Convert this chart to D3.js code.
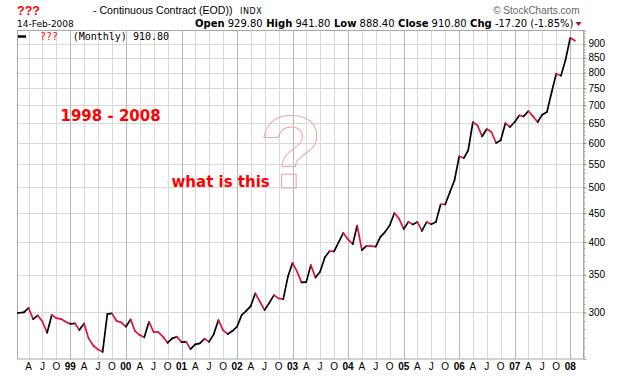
<!DOCTYPE html>
<html><head><meta charset="utf-8">
<script src="https://cdn.jsdelivr.net/npm/d3@7"></script>
<style>body{margin:0;background:#fff}svg{display:block}text{white-space:pre}</style>
</head><body><svg id="c" width="620" height="376"></svg>
<script>
// Monthly closes, Jan 1998 .. Feb 2008
const firstMonth = "1998-01";
const lastMonth = "2008-02";
const closes = [
 299.0, 299.6, 300.0, 305.7, 292.0, 296.4, 289.0, 276.1, 296.8, 293.1, 292.0, 288.7,
 286.3, 286.8, 279.1, 286.8, 269.8, 261.8, 257.9, 255.4, 298.0, 298.8, 289.6, 288.1,
 283.0, 291.6, 278.0, 273.5, 271.0, 288.7, 277.0, 276.7, 271.7, 265.0, 269.8, 271.7,
 265.7, 266.0, 258.2, 263.3, 264.4, 269.4, 266.0, 274.6, 290.8, 279.1, 274.6, 278.0,
 283.0, 297.0, 301.7, 307.9, 324.3, 313.4, 302.9, 312.0, 322.0, 317.7, 316.8, 347.0,
 367.4, 354.2, 339.2, 339.6, 364.0, 346.1, 354.2, 375.7, 385.4, 385.0, 400.3, 415.3,
 404.3, 396.6, 428.0, 387.0, 393.9, 393.4, 392.5, 408.6, 417.0, 428.6, 450.6, 440.4,
 422.1, 434.4, 429.9, 434.4, 418.7, 434.4, 430.3, 434.4, 466.9, 466.5, 491.0, 515.0,
 568.1, 564.1, 582.1, 653.5, 644.7, 616.4, 635.0, 627.3, 599.8, 606.4, 650.8, 640.3,
 653.5, 671.6, 668.8, 683.5, 668.8, 653.5, 673.5, 680.7, 738.6, 796.2, 789.6, 842.0,
 922.0, 910.8
];
const yTickValues = [300, 350, 400, 450, 500, 550, 600, 650, 700, 750, 800, 850, 900];
const quarterLetters = {3: "A", 6: "J", 9: "O"};
const headerStats = [["Open", "929.80"], ["High", "941.80"], ["Low", "888.40"], ["Close", "910.80"], ["Chg", "-17.20 (-1.85%)"]];

const parseM = d3.timeParse("%Y-%m");
const months = d3.timeMonth.range(parseM(firstMonth), d3.timeMonth.offset(parseM(lastMonth), 1));
const data = months.map((d, i) => ({date: d, value: closes[i]}));

const svg = d3.select("#c");
const L = 17, R = 583, T = 30.5, B = 359;
const x = d3.scaleTime().domain([new Date(1998, 0, 15), new Date(2008, 2, 25)]).range([L, R]);
const y = d3.scaleLog().domain([248, 950]).range([B, T]);

svg.append("defs").append("clipPath").attr("id", "clip")
  .append("rect").attr("x", L).attr("y", T).attr("width", R - L).attr("height", B - T);

// grid
const quarters = d3.timeMonth.every(3).range(new Date(1998, 1, 1), new Date(2008, 2, 1));
svg.append("g").selectAll("line").data(yTickValues).join("line")
  .attr("x1", L).attr("x2", R).attr("y1", d => Math.round(y(d)) + 0.5).attr("y2", d => Math.round(y(d)) + 0.5)
  .attr("stroke", "#d9d9d9");
svg.append("g").selectAll("line").data(quarters).join("line")
  .attr("x1", d => Math.round(x(d)) + 0.5).attr("x2", d => Math.round(x(d)) + 0.5)
  .attr("y1", T).attr("y2", B)
  .attr("stroke", d => d.getMonth() === 0 ? "#b8b8b8" : "#d9d9d9");

// border
svg.append("rect").attr("x", L + 0.5).attr("y", T).attr("width", R - L).attr("height", B - T)
  .attr("fill", "none").attr("stroke", "#a8a8a8");

// right axis
const yAxis = d3.axisRight(y).tickValues(yTickValues).tickSize(3).tickPadding(2).tickFormat(d3.format("d"));
const ga = svg.append("g").attr("transform", `translate(${R + 0.5},0)`).call(yAxis);
ga.select(".domain").attr("stroke", "#a8a8a8");
ga.selectAll(".tick line").attr("stroke", "#888");
ga.selectAll("text").attr("font-family", "Liberation Sans, Arial, sans-serif").attr("font-size", 10).attr("fill", "#000");
const minor = d3.range(250, 950, 10).filter(v => !yTickValues.includes(v));
svg.append("g").selectAll("line").data(minor).join("line")
  .attr("x1", R + 0.5).attr("x2", R + 2.5)
  .attr("y1", d => Math.round(y(d)) + 0.5).attr("y2", d => Math.round(y(d)) + 0.5)
  .attr("stroke", "#aaa");

// bottom labels
const xl = svg.append("g").attr("font-family", "Liberation Sans, Arial, sans-serif").attr("font-size", 10);
xl.selectAll("text").data(quarters).join("text")
  .attr("x", d => x(d)).attr("y", 370).attr("text-anchor", "middle")
  .attr("font-weight", d => d.getMonth() === 0 ? "bold" : "normal")
  .text(d => d.getMonth() === 0 ? d3.timeFormat("%y")(d) : quarterLetters[d.getMonth()]);

// price line, segment colored by direction
const lineGen = d3.line().x(d => x(d.date)).y(d => y(d.value));
const segs = d3.pairs(data);
svg.append("g").attr("clip-path", "url(#clip)").selectAll("path").data(segs).join("path")
  .attr("d", d => lineGen(d))
  .attr("fill", "none")
  .attr("stroke", d => d[1].value >= d[0].value ? "#000" : "#dc143c")
  .attr("stroke-width", 1.7).attr("stroke-linecap", "round");

// header
svg.append("text").attr("x", 17).attr("y", 15).attr("font-family", "Liberation Sans, Arial, sans-serif")
  .attr("font-size", 12.5).attr("font-weight", "bold").attr("fill", "#f00").text("???");
svg.append("text").attr("x", 93).attr("y", 14).attr("font-family", "Liberation Sans, Arial, sans-serif")
  .attr("font-size", 10.6).text("- Continuous Contract (EOD))");
svg.append("text").attr("x", 240).attr("y", 14).attr("font-family", "DejaVu Sans, sans-serif")
  .attr("font-size", 8).attr("letter-spacing", 0.6).text("INDX");
svg.append("text").attr("x", 17).attr("y", 27).attr("font-family", "DejaVu Sans, sans-serif")
  .attr("font-size", 9).text("14-Feb-2008");
svg.append("text").attr("x", 579.5).attr("y", 13.5).attr("text-anchor", "end")
  .attr("font-family", "Liberation Sans, Arial, sans-serif").attr("font-size", 10).attr("fill", "#666")
  .text("\u00A9 StockCharts.com");
const hs = svg.append("text").attr("x", 573.5).attr("y", 27).attr("text-anchor", "end")
  .attr("font-family", "DejaVu Sans, sans-serif").attr("font-size", 10);
headerStats.forEach(([k, v], i) => {
  hs.append("tspan").attr("font-weight", "bold").text((i ? " " : "") + k);
  hs.append("tspan").text(" " + v);
});
svg.append("path").attr("d", "M575.5,22 L581.5,22 L578.5,26 Z").attr("fill", "#a01030");

// legend
svg.append("line").attr("x1", 18).attr("x2", 26).attr("y1", 36.5).attr("y2", 36.5)
  .attr("stroke", "#000").attr("stroke-width", 2.5);
svg.append("text").attr("x", 40).attr("y", 40).attr("font-family", "DejaVu Sans Mono, monospace")
  .attr("font-size", 10).attr("fill", "#f00").text("???");
svg.append("text").attr("x", 72.7).attr("y", 40).attr("font-family", "DejaVu Sans Mono, monospace")
  .attr("font-size", 10).attr("fill", "#000").text("(Monthly) " + d3.format(".2f")(closes[closes.length - 1]));

// annotations
svg.append("text").attr("x", 60.5).attr("y", 121).attr("font-family", "DejaVu Sans, sans-serif")
  .attr("font-size", 15).attr("font-weight", "bold").attr("fill", "#f00").text("1998 - 2008");
svg.append("text").attr("x", 171.5).attr("y", 187).attr("font-family", "DejaVu Sans, sans-serif")
  .attr("font-size", 15).attr("font-weight", "bold").attr("fill", "#f00").text("what is this");
svg.append("text").attr("x", 291).attr("y", 187.5).attr("text-anchor", "middle")
  .attr("font-family", "Liberation Sans, Arial, sans-serif").attr("font-size", 104).attr("font-weight", "bold")
  .attr("fill", "none").attr("stroke", "#f4a4a4").attr("stroke-width", 1).text("?");
</script></body></html>
